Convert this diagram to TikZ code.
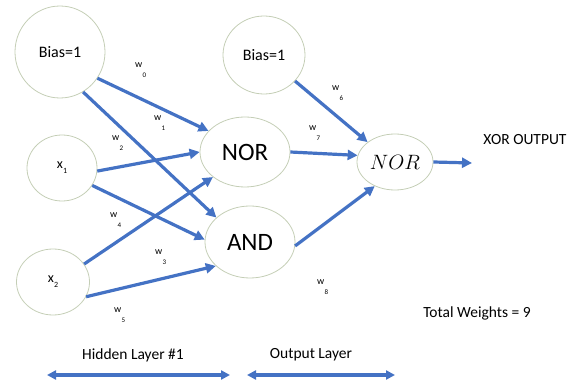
\documentclass[tikz,border=0pt]{standalone}
\usepackage{fontspec}
\setmainfont{Carlito}
\usepackage{xcolor}
\usetikzlibrary{arrows.meta}
\usetikzlibrary{shapes.geometric}
\definecolor{linkblue}{RGB}{68,114,196}
\definecolor{ringgray}{RGB}{196,206,182}
\newcommand{\wgt}[1]{{\fontsize{10}{10}\selectfont w}\hspace{0.3pt}\raisebox{-10pt}{\fontsize{7}{7}\selectfont #1}}
\newcommand{\xin}[1]{{\fontsize{14}{14}\selectfont x}\raisebox{-5pt}{\fontsize{8}{8}\selectfont #1}}

\begin{document}
\begin{tikzpicture}[x=1pt,y=-1pt,
		unit/.style={ellipse, draw=ringgray, line width=0.8pt, inner sep=0pt},
		link/.style={draw=linkblue, line width=3.2pt, -{Triangle[length=10pt,width=10pt]}},
		span/.style={draw=linkblue, line width=3.2pt, {Triangle[length=9pt,width=9pt]}-{Triangle[length=9pt,width=9pt]}},
		weight/.style={anchor=base west, inner sep=0pt},
		caption/.style={font=\fontsize{15.5}{15.5}\selectfont, inner sep=0pt}]
			\useasboundingbox (0,0) rectangle (571,390);
			% Input layer
			\node[unit, minimum width=90pt, minimum height=92pt] (bias1) at (60,52) {\fontsize{16}{16}\selectfont Bias=1};
			\node[unit, minimum width=70pt, minimum height=66pt] (x1) at (62,168) {\xin{1}};
			\node[unit, minimum width=73pt, minimum height=66pt] (x2) at (53,282) {\xin{2}};

			% Hidden layer
			\node[unit, minimum width=90pt, minimum height=70pt] (nor) at (245,152) {\fontsize{25}{25}\selectfont NOR};
			\node[unit, minimum width=90pt, minimum height=72pt] (and) at (250,242) {\fontsize{25}{25}\selectfont AND};
			\node[unit, minimum width=82pt, minimum height=78pt] (bias2) at (264,55) {\fontsize{16}{16}\selectfont Bias=1};

			% Output layer
			\node[unit, minimum width=76pt, minimum height=56pt] (out) at (395,162) {\fontsize{20}{20}\selectfont $NOR$};
			\coordinate (xorend) at (472,163);

			% Connections
			\draw[link] (bias1.-35) -- (nor.150);
			\draw[link] (bias1.-60) -- (and.144);
			\draw[link] (x1.-5) -- (nor.180);
			\draw[link] (x1.-30) -- (and.177);
			\draw[link] (x2.30) -- (nor.218);
			\draw[link] (x2.-24) -- (and.215);
			\draw[link] (nor.0) -- (out.170);
			\draw[link] (bias2.-40) -- (out.144);
			\draw[link] (and.-5) -- (out.230);
			\draw[link] (out.0) -- (xorend);

			% Weights
			\node[weight] (w0) at (135,68) {\wgt{0}};
			\node[weight] (w1) at (154,121) {\wgt{1}};
			\node[weight] (w2) at (112,141) {\wgt{2}};
			\node[weight] (w4) at (110,218) {\wgt{4}};
			\node[weight] (w3) at (155,255) {\wgt{3}};
			\node[weight] (w5) at (114,313) {\wgt{5}};
			\node[weight] (w6) at (332,91) {\wgt{6}};
			\node[weight] (w7) at (309,131) {\wgt{7}};
			\node[weight] (w8) at (317,285) {\wgt{8}};

			% Labels
			\node[caption] (xortext) at (525,140) {XOR OUTPUT};
			\node[caption] (total) at (477,313) {Total Weights = 9};
			\node[caption] (hidden) at (133,355) {Hidden Layer \#1};
			\node[caption] (outlayer) at (311,355) {Output Layer};

			% Layer spans
			\coordinate (hleft) at (47,375);
			\coordinate (hright) at (230,375);
			\coordinate (oleft) at (247,375);
			\coordinate (oright) at (395,375);
			\draw[span] (hleft) -- (hright);
			\draw[span] (oleft) -- (oright);
		\end{tikzpicture}
\end{document}
